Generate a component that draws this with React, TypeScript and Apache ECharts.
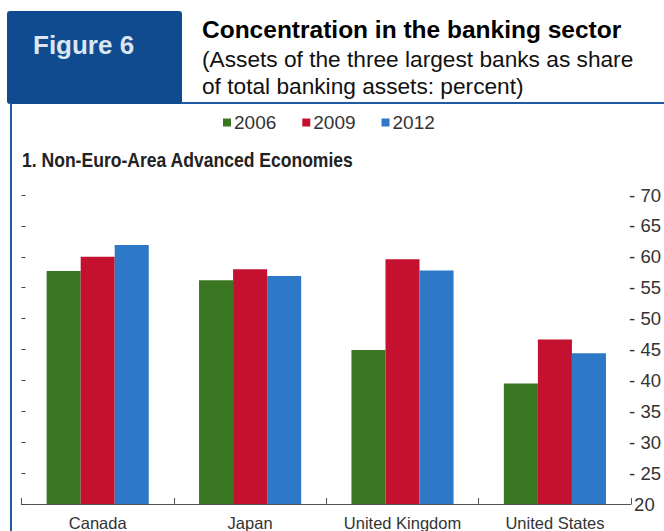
import React, { useEffect, useRef } from "react";
import * as echarts from "echarts";

const categories = ["Canada", "Japan", "United Kingdom", "United States"];
const seriesNames = ["2006", "2009", "2012"];
const values2006 = [57.7, 56.2, 44.9, 39.5];
const values2009 = [60.0, 58.0, 59.6, 46.6];
const values2012 = [61.9, 56.9, 57.8, 44.4];
const colors = ["#3a7521", "#c3112f", "#2e79c7"];

const SANS = "'Liberation Sans', Arial, sans-serif";

export default function App() {
  const ref = useRef<HTMLDivElement>(null);
  useEffect(() => {
    if (!ref.current) return;
    const chart = echarts.init(ref.current, undefined, { renderer: "svg" });
    const data = [values2006, values2009, values2012];
    chart.setOption({
      animation: false,
      backgroundColor: "#ffffff",
      legend: {
        data: seriesNames,
        top: 108,
        left: 218,
        itemWidth: 8,
        itemHeight: 8,
        itemGap: 26,
        icon: "rect",
        textStyle: { fontFamily: SANS, fontSize: 19, color: "#333", padding: [0, 0, 0, -2] },
      },
      grid: { left: 21.5, right: 28, top: 195, bottom: 26, containLabel: false },
      xAxis: {
        type: "category",
        data: categories,
        axisLine: { lineStyle: { color: "#555", width: 1 } },
        axisTick: { show: true, inside: true, length: 6, interval: 0, lineStyle: { color: "#555" } },
        axisLabel: { fontFamily: SANS, fontSize: 16.5, color: "#333", margin: 10, interval: 0 },
      },
      yAxis: [
        {
          type: "value",
          position: "right",
          min: 20,
          max: 70,
          interval: 5,
          axisLine: { show: false },
          axisTick: { show: false },
          splitLine: { show: false },
          axisLabel: {
            margin: -2,
            fontFamily: SANS,
            fontSize: 18.5,
            color: "#333",
            formatter: (v: number) => (v === 20 ? "{p|}" + v : "- " + v),
            rich: { p: { width: 5 } },
          },
        },
        {
          type: "value",
          position: "left",
          min: 20,
          max: 70,
          interval: 5,
          axisLine: { show: false },
          axisTick: { show: true, inside: true, length: 4, lineStyle: { color: "#444" } },
          axisLabel: { show: false },
          splitLine: { show: false },
        },
      ],
      series: seriesNames.map((name, i) => ({
        name,
        type: "bar",
        yAxisIndex: 0,
        data: data[i],
        barGap: "0%",
        barCategoryGap: "33%",
        itemStyle: { color: colors[i] },
      })),
      graphic: [
        { type: "rect", shape: { x: 7, y: 11, width: 175, height: 93, r: [3, 3, 0, 3] }, style: { fill: "#104b8f" } },
        { type: "line", shape: { x1: 181, y1: 103, x2: 664, y2: 103 }, style: { stroke: "#1f5aa3", lineWidth: 2 } },
        { type: "line", shape: { x1: 11, y1: 103, x2: 11, y2: 531 }, style: { stroke: "#1f5aa3", lineWidth: 2 } },
        { type: "text", x: 33, y: 45, style: { text: "Figure 6", fill: "#dce6f1", font: "bold 26px " + SANS, verticalAlign: "middle" } },
        { type: "text", x: 202, y: 29, style: { text: "Concentration in the banking sector", fill: "#000", font: "bold 24.5px " + SANS, verticalAlign: "middle" } },
        { type: "text", x: 202, y: 59, style: { text: "(Assets of the three largest banks as share", fill: "#111", font: "22.7px " + SANS, verticalAlign: "middle" } },
        { type: "text", x: 202, y: 86, style: { text: "of total banking assets: percent)", fill: "#111", font: "22.7px " + SANS, verticalAlign: "middle" } },
        { type: "text", x: 22, y: 160, scaleX: 0.9, style: { text: "1. Non-Euro-Area Advanced Economies", fill: "#222", font: "bold 19.5px " + SANS, verticalAlign: "middle" } },
      ],
    });
    return () => chart.dispose();
  }, []);
  return <div ref={ref} style={{ position: "fixed", left: 0, top: 0, width: 664, height: 531 }} />;
}
